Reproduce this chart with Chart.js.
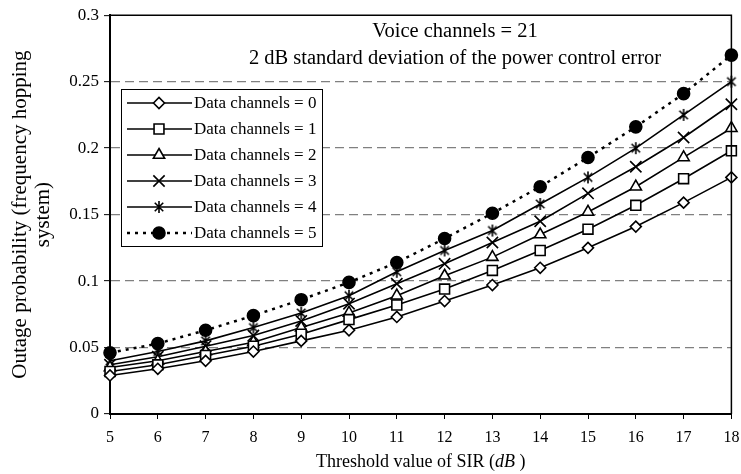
<!DOCTYPE html>
<html>
<head>
<meta charset="utf-8">
<script src="https://cdn.jsdelivr.net/npm/chart.js@4/dist/chart.umd.min.js"></script>
<style>
  html, body { margin: 0; padding: 0; background: #fff; }
  #wrap { width: 741px; height: 474px; }
</style>
</head>
<body>
<div id="wrap"><canvas id="outageChart"></canvas></div>
<script>
// threshold SIR values (dB)
const sirDb = [5, 6, 7, 8, 9, 10, 11, 12, 13, 14, 15, 16, 17, 18];

// outage probability, one array per number of data channels
const dataCh0 = [0.029, 0.034, 0.040, 0.047, 0.055, 0.063, 0.073, 0.085, 0.097, 0.110, 0.125, 0.141, 0.159, 0.178];
const dataCh1 = [0.032, 0.037, 0.044, 0.051, 0.060, 0.071, 0.082, 0.094, 0.108, 0.123, 0.139, 0.157, 0.177, 0.198];
const dataCh2 = [0.035, 0.040, 0.047, 0.054, 0.065, 0.076, 0.089, 0.104, 0.118, 0.135, 0.152, 0.171, 0.193, 0.215];
const dataCh3 = [0.037, 0.043, 0.051, 0.059, 0.070, 0.083, 0.098, 0.113, 0.129, 0.145, 0.166, 0.186, 0.208, 0.233];
const dataCh4 = [0.040, 0.047, 0.055, 0.065, 0.076, 0.089, 0.107, 0.123, 0.138, 0.158, 0.178, 0.200, 0.225, 0.250];
const dataCh5 = [0.046, 0.053, 0.063, 0.074, 0.086, 0.099, 0.114, 0.132, 0.151, 0.171, 0.193, 0.216, 0.241, 0.270];

const seriesLabels = ['Data channels = 0', 'Data channels = 1', 'Data channels = 2',
                      'Data channels = 3', 'Data channels = 4', 'Data channels = 5'];
const yTickValues = [0, 0.05, 0.1, 0.15, 0.2, 0.25, 0.3];
const xTickValues = sirDb;
const noteLines = ['Voice channels = 21', '2 dB standard deviation of the power control error'];

const SERIF = "'Liberation Serif', 'Times New Roman', serif";

// asterisk marker (x plus vertical stroke)
function makeAsterisk(size) {
    const c = document.createElement('canvas');
    c.width = size; c.height = size;
    const g = c.getContext('2d');
    const m = size / 2, r = size / 2 - 1;
    const d = r * Math.SQRT1_2;
    g.strokeStyle = '#000';
    g.lineWidth = 1.6;
    g.beginPath();
    g.moveTo(m, m - r); g.lineTo(m, m + r);
    g.moveTo(m - d, m - d); g.lineTo(m + d, m + d);
    g.moveTo(m + d, m - d); g.lineTo(m - d, m + d);
    g.stroke();
    return c;
}
const asterisk = makeAsterisk(14);

function toPoints(values) {
    return sirDb.map((x, i) => ({ x: x, y: values[i] }));
}

function lineSet(label, values, style, radius, dotted) {
    return {
        label: label,
        data: toPoints(values),
        borderColor: '#000',
        borderWidth: dotted ? 2.5 : 1.6,
        borderDash: dotted ? [3, 5] : [],
        pointStyle: style,
        pointRadius: radius,
        pointHoverRadius: radius,
        pointBorderColor: '#000',
        pointBorderWidth: 1.6,
        pointBackgroundColor: dotted ? '#000' : '#fff',
        tension: 0,
        clip: 8
    };
}

const datasets = [
    lineSet(seriesLabels[0], dataCh0, 'rectRot', 5.5),
    lineSet(seriesLabels[1], dataCh1, 'rect', 7),
    lineSet(seriesLabels[2], dataCh2, 'triangle', 6.5),
    lineSet(seriesLabels[3], dataCh3, 'crossRot', 8),
    lineSet(seriesLabels[4], dataCh4, asterisk, 7),
    lineSet(seriesLabels[5], dataCh5, 'circle', 6, true)
];

// frame, legend box, note text and x title with italic dB
const extrasPlugin = {
    id: 'extras',
    afterDraw(chart) {
        const ctx = chart.ctx;
        const a = chart.chartArea;
        ctx.save();
        // top and right frame
        ctx.strokeStyle = '#000';
        ctx.lineWidth = 1.5;
        ctx.beginPath();
        ctx.moveTo(a.left, a.top);
        ctx.lineTo(a.right, a.top);
        ctx.lineTo(a.right, a.bottom);
        ctx.stroke();

        // notes
        ctx.fillStyle = '#000';
        ctx.font = '20.5px ' + SERIF;
        ctx.textAlign = 'center';
        ctx.textBaseline = 'middle';
        ctx.fillText(noteLines[0], 455, 32);
        ctx.fillText(noteLines[1], 455, 59);

        // legend
        const bx = 121, by = 89, bw = 201, rowH = 26;
        const bh = rowH * datasets.length + 1;
        ctx.fillStyle = '#fff';
        ctx.fillRect(bx, by, bw, bh);
        ctx.strokeStyle = '#000';
        ctx.lineWidth = 1;
        ctx.strokeRect(bx + 0.5, by + 0.5, bw, bh);
        datasets.forEach((ds, i) => {
            const cy = by + 14 + i * rowH;
            ctx.save();
            ctx.strokeStyle = '#000';
            ctx.lineWidth = ds.borderWidth;
            ctx.setLineDash(ds.borderDash);
            ctx.beginPath();
            ctx.moveTo(127, cy);
            ctx.lineTo(192, cy);
            ctx.stroke();
            ctx.restore();
            ctx.save();
            ctx.fillStyle = ds.pointBackgroundColor;
            ctx.strokeStyle = '#000';
            ctx.lineWidth = ds.pointBorderWidth;
            Chart.helpers.drawPoint(ctx, {
                pointStyle: ds.pointStyle,
                radius: ds.pointRadius,
                rotation: 0,
                borderWidth: ds.pointBorderWidth
            }, 159, cy);
            ctx.restore();
            ctx.fillStyle = '#000';
            ctx.font = '17px ' + SERIF;
            ctx.textAlign = 'left';
            ctx.textBaseline = 'middle';
            ctx.fillText(ds.label, 194, cy + 1);
        });

        // x title
        const parts = [
            ['Threshold value of SIR (', '18px ' + SERIF],
            ['dB', 'italic 18px ' + SERIF],
            [' )', '18px ' + SERIF]
        ];
        let total = 0;
        parts.forEach(p => { ctx.font = p[1]; total += ctx.measureText(p[0]).width; });
        let x = (a.left + a.right) / 2 - total / 2;
        ctx.textAlign = 'left';
        ctx.textBaseline = 'middle';
        parts.forEach(p => {
            ctx.font = p[1];
            ctx.fillText(p[0], x, 462);
            x += ctx.measureText(p[0]).width;
        });
        ctx.restore();
    }
};

const chart = new Chart(document.getElementById('outageChart'), {
    type: 'line',
    data: { datasets: datasets },
    plugins: [extrasPlugin],
    options: {
        responsive: true,
        maintainAspectRatio: false,
        animation: false,
        events: [],
        layout: { padding: { top: 15, right: 4, left: 9, bottom: 0 } },
        plugins: {
            legend: { display: false },
            tooltip: { enabled: false }
        },
        scales: {
            x: {
                type: 'linear',
                min: 5,
                max: 18,
                afterBuildTicks: (s) => { s.ticks = xTickValues.map(v => ({ value: v })); },
                afterFit: (s) => { s.height = 60; s.paddingLeft = 0; s.paddingRight = 0; },
                grid: {
                    drawOnChartArea: false,
                    drawTicks: true,
                    tickLength: 5,
                    tickColor: '#000',
                    tickWidth: 1
                },
                border: { display: true, color: '#000', width: 2 },
                ticks: {
                    color: '#000',
                    padding: 9,
                    maxRotation: 0,
                    font: { family: SERIF, size: 16 }
                }
            },
            y: {
                type: 'linear',
                min: 0,
                max: 0.3,
                afterBuildTicks: (s) => { s.ticks = yTickValues.map(v => ({ value: v })); },
                afterFit: (s) => { s.width = 101; },
                grid: {
                    drawOnChartArea: true,
                    drawTicks: true,
                    tickLength: 6,
                    tickColor: '#000',
                    tickWidth: 1,
                    lineWidth: 1.3,
                    color: (c) => (c.tick && c.tick.value > 0 && c.tick.value < 0.3) ? '#808080' : 'rgba(0,0,0,0)'
                },
                border: { display: true, color: '#000', width: 2, dash: [9, 5] },
                ticks: {
                    color: '#000',
                    padding: 5,
                    font: { family: SERIF, size: 17 },
                    callback: (v) => String(Math.round(v * 100) / 100)
                },
                title: {
                    display: true,
                    text: ['Outage probability (frequency hopping', 'system)'],
                    color: '#000',
                    font: { family: SERIF, size: 21, lineHeight: 1.1 },
                    padding: { top: 0, bottom: 4 }
                }
            }
        }
    }
});
</script>
</body>
</html>
